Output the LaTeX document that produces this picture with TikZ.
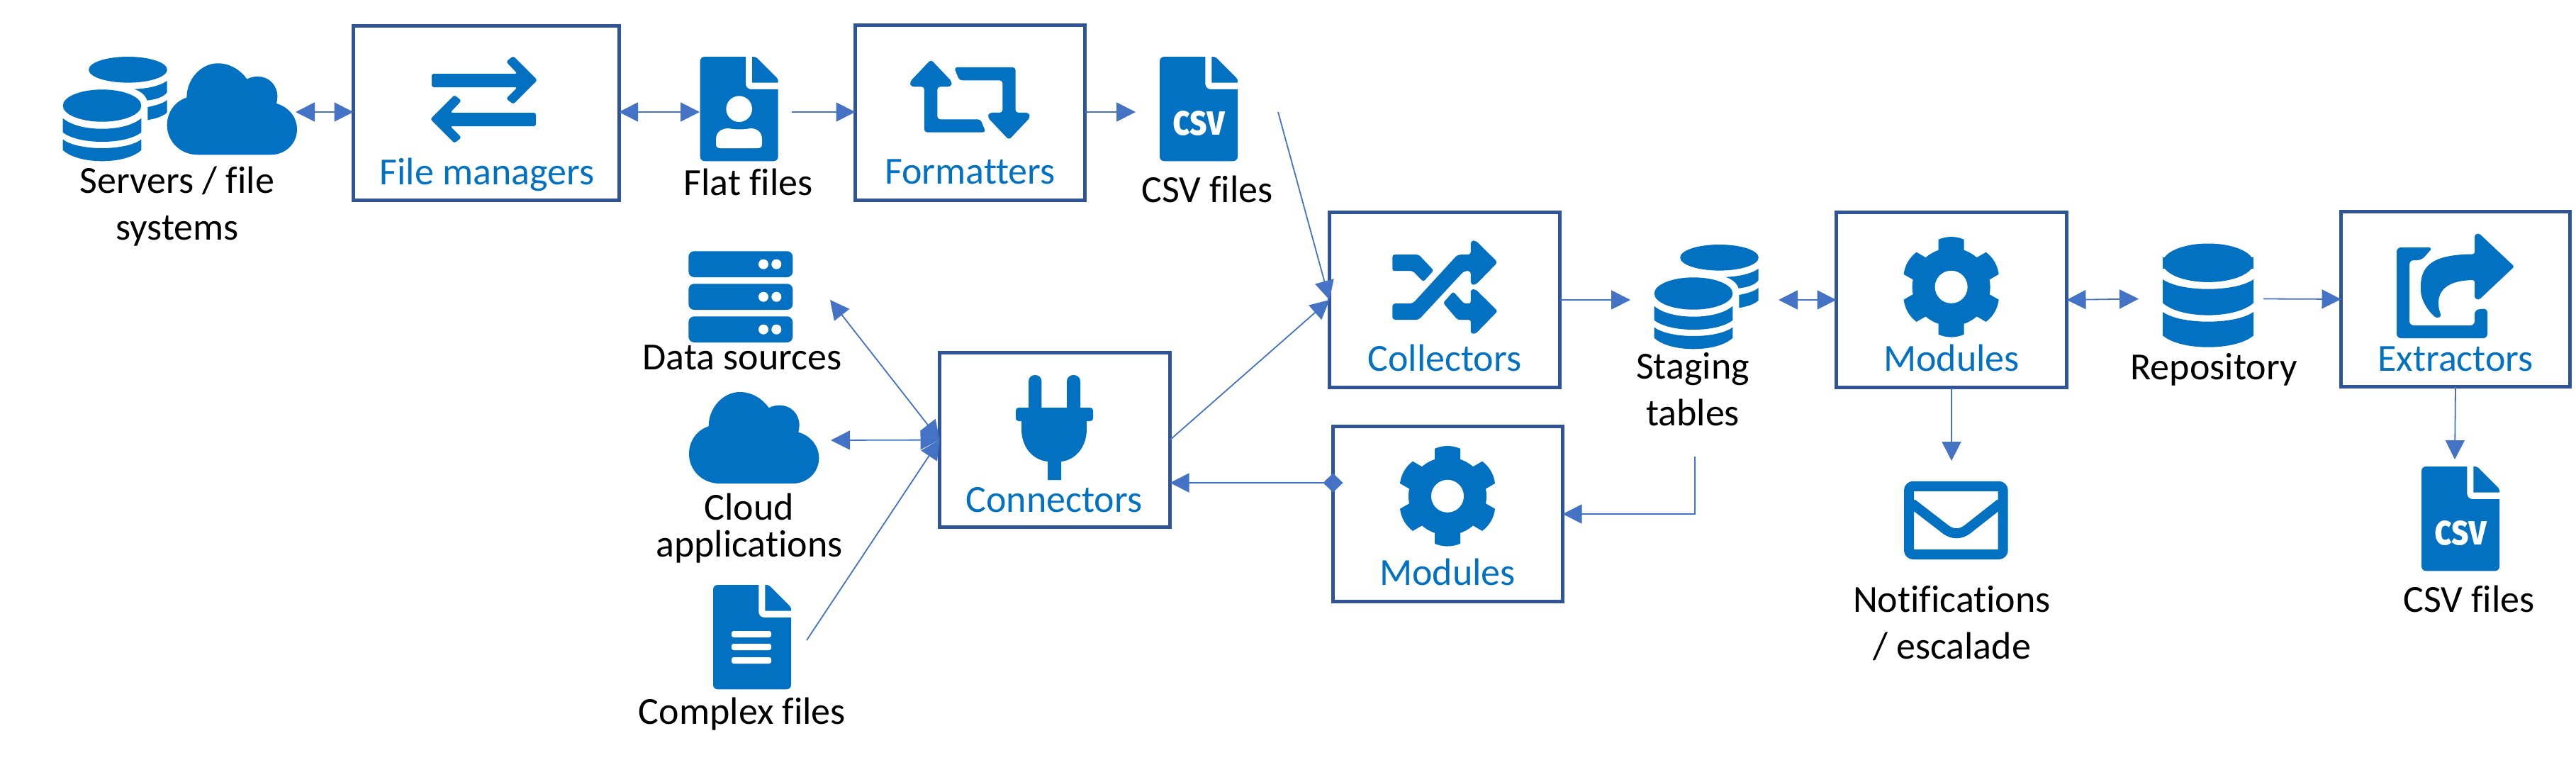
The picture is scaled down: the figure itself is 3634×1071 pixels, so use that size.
\documentclass[tikz,border=0pt]{standalone}
\usepackage{fontspec}
\setmainfont[Ligatures=NoCommon]{Carlito}
\newfontfamily\csvfont{Fira Sans}
\usetikzlibrary{arrows.meta}
\definecolor{boxc}{HTML}{2F5597}
\definecolor{iconc}{HTML}{0371C1}
\definecolor{arrowc}{HTML}{4472C4}
\tikzset{
  procbox/.style={draw=boxc,line width=5pt,fill=white,inner sep=0pt,outer sep=0pt,rectangle},
  port/.style={inner sep=0pt,outer sep=0pt,rectangle},
  flow/.style={draw=arrowc,line width=1.8pt},
  tipT/.tip={Triangle[length=27pt,width=27pt]},
  tipD/.tip={Diamond[length=28pt,width=27pt]},
  lbl/.style={font=\fontsize{54}{66}\selectfont,text=black,anchor=base,inner sep=0pt,align=center},
  blbl/.style={font=\fontsize{54}{66}\selectfont,text=iconc,anchor=base,inner sep=0pt},
  csvtext/.style={font=\csvfont\bfseries\fontsize{62}{62}\selectfont,text=white,anchor=base,inner sep=0pt,xscale=.82,transform shape},
}
\newcommand\BoxNode[5]{\node[procbox,minimum width={(#4-#2)*1pt},minimum height={(#5-#3)*1pt}] (#1) at ({(#2+#4)/2},{(#3+#5)/2}) {};}
\newcommand\PortNode[5]{\node[port,minimum width={(#4-#2)*1pt},minimum height={(#5-#3)*1pt}] (#1) at ({(#2+#4)/2},{(#3+#5)/2}) {};}
% database band: half width, edge y, inner-curve y, low side y, bottom y
\newcommand\DbBand[5]{%
  \pgfmathsetmacro\cA{(4*#3-#2)/3}\pgfmathsetmacro\cB{(4*#5-#4)/3}%
  \fill[iconc] (-#1,#2) .. controls ({-#1*.6},\cA) and ({#1*.6},\cA) .. (#1,#2) -- (#1,#4)
     .. controls ({#1*.6},\cB) and ({-#1*.6},\cB) .. (-#1,#4) -- cycle;}
\newcommand\TwoDb[2]{\begin{scope}[shift={(#1,#2)}]
  \fill[iconc] (36.5,-50.7) ellipse [x radius=55.3,y radius=18.3];
  \fill[iconc] (45.3,-23.3) .. controls (65,-24) and (82,-28) .. (91.7,-35) -- (91.7,-19) .. controls (88,-13) and (78,-9) .. (63.7,-7.3) .. controls (61,-15) and (55,-20) .. (45.3,-23.3) -- cycle;
  \fill[iconc] (64.3,2) .. controls (75,0) and (86,-3) .. (91.7,-8) -- (91.7,9.3) .. controls (88,14) and (78,18) .. (64.3,20.3) -- cycle;
  \fill[iconc] (0,0) ellipse [x radius=55.3,y radius=22.7];
  \DbBand{55.3}{17.7}{32.7}{37.7}{51}
  \DbBand{55.3}{47.7}{60}{62.7}{78.3}
\end{scope}}
\newcommand\CloudIcon[2]{\fill[iconc,shift={(#1,#2)},scale=0.3333]
  (130,387) .. controls (55,387) and (0,330) .. (0,262) .. controls (0,205) and (35,160) .. (83,145)
  .. controls (83,65) and (145,0) .. (215,0) .. controls (265,0) and (310,27) .. (338,67)
  .. controls (355,58) and (370,56) .. (385,56) .. controls (430,56) and (467,92) .. (467,140)
  .. controls (467,150) and (465,160) .. (463,170) .. controls (515,185) and (550,228) .. (550,280)
  .. controls (550,340) and (500,387) .. (440,387) -- cycle;}
\newcommand\DocIcon[2]{\begin{scope}[shift={(#1,#2)},scale=0.3333]
  \fill[iconc] (0,20) .. controls (0,8) and (8,0) .. (20,0) -- (193,0) -- (193,115) .. controls (193,130) and (205,138) .. (218,138) -- (330,138) -- (330,422) .. controls (330,434) and (322,442) .. (310,442) -- (20,442) .. controls (8,442) and (0,434) .. (0,422) -- cycle;
  \fill[iconc] (220,0) -- (228,0) -- (240,5) -- (325,90) -- (330,100) -- (330,110) -- (220,110) -- cycle;
\end{scope}}
\newcommand\GearIcon[2]{\begin{scope}[shift={(#1,#2)}]
  \fill[iconc] (0,0) circle [radius=55];
  \foreach \a in {0,60,...,300}{\fill[iconc,rotate=\a] (-18,-45) -- (-18,-67) .. controls (-6,-72) and (6,-72) .. (18,-67) -- (18,-45) -- cycle;}
  \fill[white] (0,0) circle [radius=23];
\end{scope}}
\begin{document}
\begin{tikzpicture}[x=1pt,y=-1pt]
\useasboundingbox[fill=white] (0,0) rectangle (3634,1071);

% process boxes
\BoxNode{fm}{498.5}{36.5}{873}{282.5}
\BoxNode{fmt}{1206.5}{35.5}{1530.5}{282.5}
\BoxNode{col}{1875.5}{299.5}{2200.5}{546.5}
\BoxNode{modl}{1880.5}{601.5}{2204.5}{848.5}
\BoxNode{conn}{1325.5}{497.5}{1650.5}{743.5}
\BoxNode{modr}{2590.5}{299.5}{2915.5}{546.5}
\BoxNode{ext}{3302.5}{298.5}{3625.5}{545.5}

% invisible extents of the free icons
\PortNode{srv}{88}{89}{417}{227}
\PortNode{flat}{987}{80}{1117}{236}
\PortNode{csva}{1602}{80}{1803}{236}
\PortNode{dsrc}{971}{363}{1171}{483}
\PortNode{cloud}{972}{560}{1172}{682}
\PortNode{cplx}{1006}{833}{1138}{973}
\PortNode{stg}{2300}{330}{2509}{516}
\PortNode{repo}{3017}{343}{3193}{500}
\PortNode{mail}{2673}{650}{2833}{789}
\PortNode{csvb}{3400}{648}{3526}{805}
\coordinate (stgout) at (2391,644);

% icons
\TwoDb{144}{149}
\CloudIcon{235.7}{89.3}
\CloudIcon{972}{553}
\TwoDb{2389}{414}
% file managers arrows
\fill[iconc,rounded corners=3pt] (609,104) -- (730,104) -- (714,87) -- (724,79) -- (758,113) -- (724,147) -- (714,139) -- (730,123) -- (609,123) -- cycle;
\fill[iconc,rounded corners=3pt] (756,159) -- (635,159) -- (651,142) -- (641,134) -- (607,168) -- (641,202) -- (651,194) -- (635,178) -- (756,178) -- cycle;
% documents
\DocIcon{987.7}{80}
\fill[white] (1042.7,153.7) circle [radius=18.3];
\fill[white] (1010,197) .. controls (1010,186) and (1018,181) .. (1028,181) .. controls (1036,183) and (1050,183) .. (1058,181) .. controls (1068,181) and (1075,186) .. (1075,197) -- (1075,203) .. controls (1075,207) and (1073,209) .. (1069,209) -- (1016,209) .. controls (1012,209) and (1010,207) .. (1010,203) -- cycle;
\DocIcon{1636}{80}
\node[csvtext] (csvaglyph) at (1691,190.7) {csv};
\DocIcon{3416}{658}
\node[csvtext] (csvbglyph) at (3471,768.7) {csv};
\DocIcon{1006}{825}
\fill[white,rounded corners=3pt] (1032,890) rectangle (1088,899);
\fill[white,rounded corners=3pt] (1032,908) rectangle (1088,917);
\fill[white,rounded corners=3pt] (1032,927) rectangle (1088,936);
% formatters
\begin{scope}[shift={(950,30)},scale=0.3333]
\fill[iconc,rounded corners=4pt] (1090,162) -- (1000,257) -- (1005,277) -- (1062,277) -- (1062,470) -- (1322,470) -- (1300,415) -- (1117,415) -- (1117,277) -- (1175,277) -- (1180,257) -- cycle;
\fill[iconc,rounded corners=4pt] (1188,195) -- (1448,195) -- (1448,387) -- (1505,387) -- (1510,407) -- (1420,502) -- (1330,407) -- (1335,387) -- (1393,387) -- (1393,250) -- (1210,250) -- cycle;
\end{scope}
% data sources
\foreach \yy in {354.3,400.3,446.3}{
  \fill[iconc,rounded corners=8pt] (971.3,\yy) rectangle (1118.3,\yy+36.7);
  \fill[white] (1077,\yy+18.4) circle [radius=7];
  \fill[white] (1095.3,\yy+18.4) circle [radius=7];
}
% plug
\fill[iconc] (1451,576) -- (1451,538) .. controls (1451,526) and (1469.4,526) .. (1469.4,538) -- (1469.4,576) -- cycle;
\fill[iconc] (1505,576) -- (1505,538) .. controls (1505,526) and (1524,526) .. (1524,538) -- (1524,576) -- cycle;
\fill[iconc,rounded corners=4pt] (1433,575) rectangle (1542,594);
\fill[iconc] (1441,590) -- (1441,605) .. controls (1441,632) and (1458,649) .. (1478,651) -- (1478,677) -- (1497,677) -- (1497,651) .. controls (1516,649) and (1533,632) .. (1533,605) -- (1533,590) -- cycle;
% shuffle
\begin{scope}[shift={(1900,280)},scale=0.3827]
\fill[iconc,rounded corners=3pt] (168,207) -- (265,207) -- (320,265) -- (282,307) -- (243,267) -- (168,267) -- cycle;
\fill[iconc,rounded corners=4pt] (168,387) -- (243,387) -- (408,207) -- (457,207) -- (457,155) -- (475,155) -- (556,235) -- (475,318) -- (457,318) -- (457,267) -- (432,267) -- (265,447) -- (168,447) -- cycle;
\fill[iconc,rounded corners=3pt] (392,343) -- (432,387) -- (457,387) -- (457,335) -- (475,335) -- (556,415) -- (475,498) -- (457,498) -- (457,447) -- (408,447) -- (355,385) -- cycle;
\end{scope}
\GearIcon{2042}{699.8}
\GearIcon{2752.6}{404.8}
% single database
\begin{scope}[shift={(3115,370.7)}]
\fill[iconc] (0,0) ellipse [x radius=64,y radius=27.2];
\fill[iconc] (-64,-8) rectangle (64,8);
\DbBand{64}{23.3}{37}{56.6}{73.9}
\DbBand{64}{69.3}{83}{102.6}{119}
\end{scope}
% extract
\fill[iconc,rounded corners=6pt] (3432,349) -- (3381,349) -- (3381,477) -- (3509,477) -- (3509,435) -- (3491,437) -- (3491,459) -- (3399,459) -- (3399,367) -- (3416,367) -- cycle;
\fill[iconc,rounded corners=3pt] (3491,358.5) .. controls (3440,359) and (3415,370) .. (3415,406) .. controls (3415,425) and (3428,442) .. (3438,449) -- (3444,446) .. controls (3438,430) and (3432,396) .. (3491,395) -- (3491,421) -- (3497,423) -- (3547,376) -- (3497,329) -- (3491,331) -- cycle;
% mail
\draw[iconc,line width=14pt,rounded corners=6pt] (2693,685.8) rectangle (2825.6,782);
\draw[iconc,line width=14pt] (2697,710) -- (2745,747) .. controls (2755,754) and (2765,754) .. (2775,747) -- (2822,710);

% connectors
\draw[flow,tipT-tipT] (srv.east) -- (srv.east -| fm.west);
\draw[flow,tipT-tipT] (fm.east |- flat.west) -- (flat.west);
\draw[flow,-tipT] (flat.east) -- (flat.east -| fmt.west);
\draw[flow,-tipT] (fmt.east |- csva.west) -- (csva.west);
\draw[flow,-tipT] (csva.east) -- (col.west);
\draw[flow,-tipT] (conn.east) -- (col.west);
\draw[flow,-tipT] (col.east) -- (stg.west);
\draw[flow,tipT-tipT] (stg.east) -- (modr.west);
\draw[flow,tipT-tipT] (modr.east) -- (repo.west);
\draw[flow,-tipT] (repo.east) -- (ext.west);
\draw[flow,-tipT] (modr.south) -- (mail.north);
\draw[flow,-tipT] (ext.south) -- (csvb.north);
\draw[flow,-tipT] (stgout) |- (modl.east);
\draw[flow,tipD-tipT] ([xshift=14pt,yshift=44pt]modl.west) -- ([yshift=44pt]modl.west -| conn.east);
\draw[flow,tipT-tipT] (dsrc.east) -- (conn.west);
\draw[flow,tipT-tipT] (cloud.east) -- (conn.west);
\draw[flow,-tipT] (cplx.east) -- (conn.west);

% labels
\node[lbl] (tsrv) at (250,338) {Servers / file\\systems};
\node[blbl] (tfm) at (687,260) {File managers};
\node[lbl] (tflat) at (1055.7,275) {Flat files};
\node[blbl] (tfmt) at (1368.5,259) {Formatters};
\node[lbl] (tcsva) at (1703,285) {CSV files};
\node[lbl] (tdsrc) at (1047,521) {Data sources};
\node[lbl,font=\fontsize{54}{52}\selectfont] (tcloud) at (1057,785) {Cloud\\applications};
\node[lbl] (tcplx) at (1047,1021) {Complex files};
\node[blbl] (tconn) at (1487,722) {Connectors};
\node[blbl] (tcol) at (2038,523) {Collectors};
\node[blbl] (tmodl) at (2042,825) {Modules};
\node[lbl] (tstg) at (2388,600.7) {Staging\\tables};
\node[blbl] (tmodr) at (2753,523) {Modules};
\node[lbl] (trepo) at (3123,535.6) {Repository};
\node[blbl] (text) at (3464,523) {Extractors};
\node[lbl] (tmail) at (2753.5,929) {Notifications\\/ escalade};
\node[lbl] (tcsvb) at (3483,863) {CSV files};
\end{tikzpicture}
\end{document}
